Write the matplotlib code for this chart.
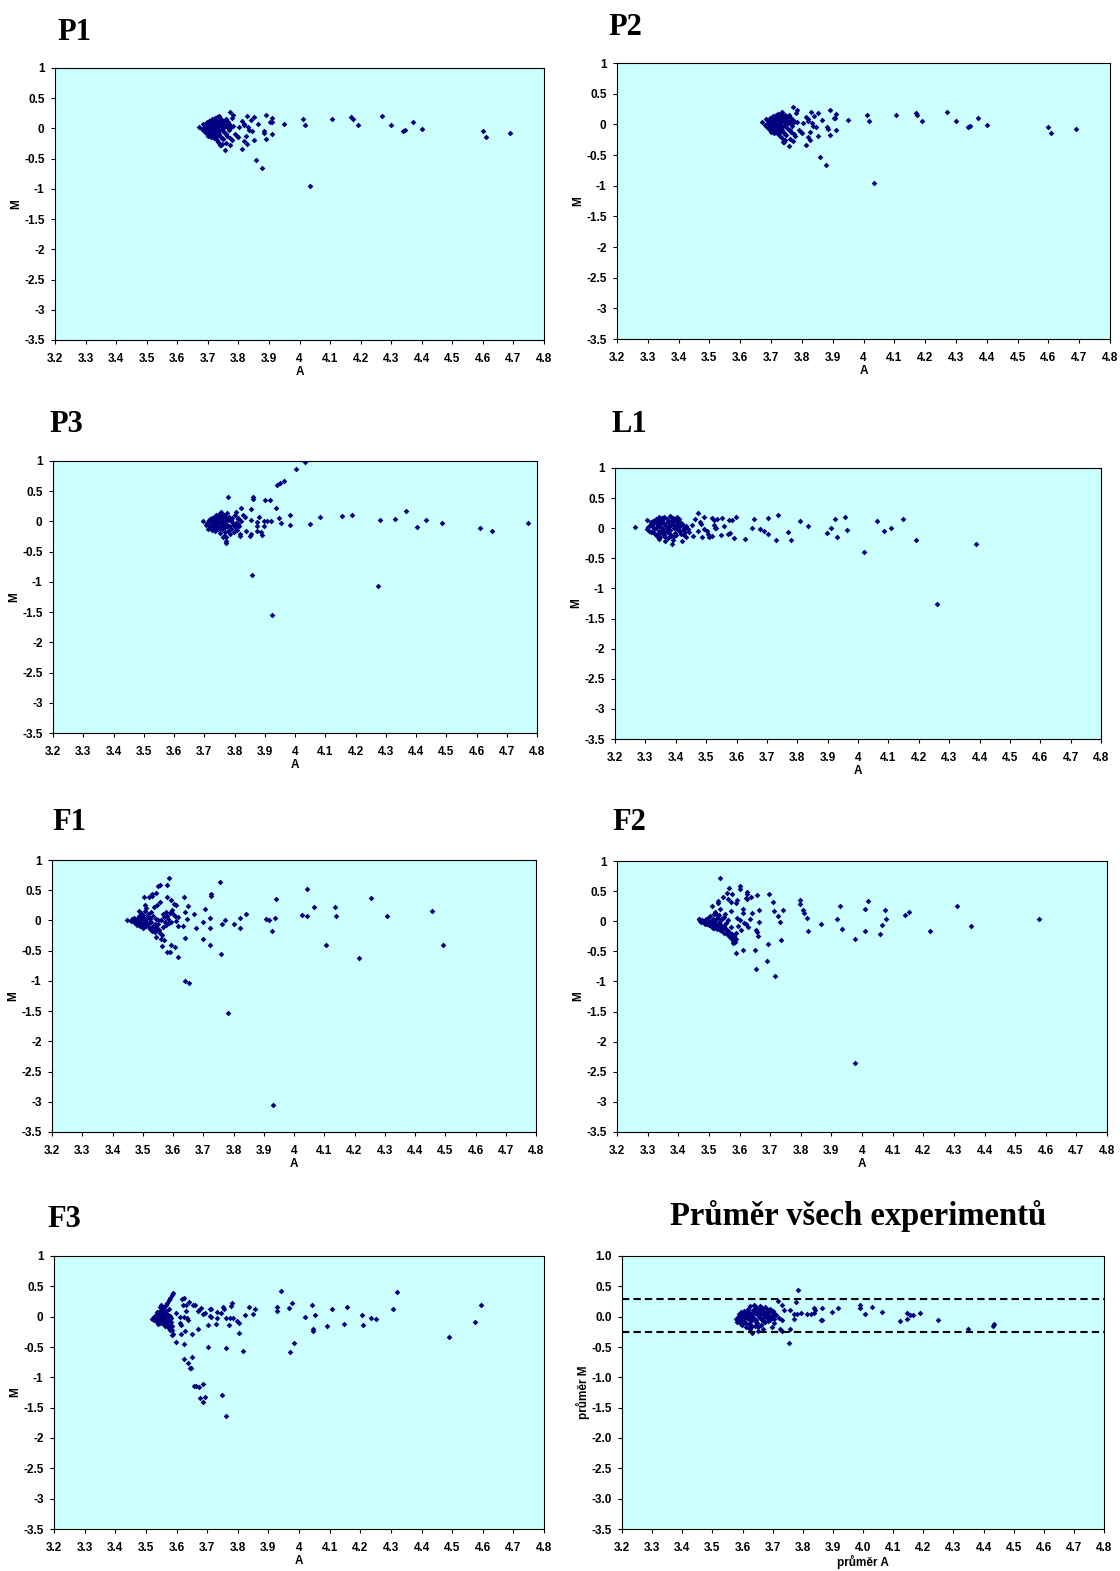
import matplotlib.pyplot as plt
import numpy as np

# (A, M) pairs per experiment
p1_points = [
    (3.672, 0.03), (3.680, -0.01), (3.684, 0.08), (3.688, -0.04), (3.690, 0.02), (3.692, 0.05), (3.694, -0.07), (3.696, 0.00), (3.698, 0.10), (3.700, -0.03),
    (3.700, 0.06), (3.702, -0.10), (3.704, 0.01), (3.705, 0.13), (3.706, -0.05), (3.708, 0.04), (3.709, -0.14), (3.710, 0.09), (3.711, -0.02), (3.712, 0.11),
    (3.713, 0.00), (3.714, -0.08), (3.715, 0.15), (3.716, 0.03), (3.717, -0.12), (3.718, 0.07), (3.719, -0.04), (3.720, 0.12), (3.721, -0.16), (3.722, 0.02),
    (3.723, 0.17), (3.724, -0.06), (3.725, 0.05), (3.726, -0.11), (3.727, 0.14), (3.728, 0.00), (3.729, -0.19), (3.730, 0.08), (3.731, 0.19), (3.732, -0.03),
    (3.733, 0.10), (3.734, -0.22), (3.735, 0.04), (3.736, 0.20), (3.737, -0.09), (3.738, 0.13), (3.740, -0.28), (3.741, 0.06), (3.742, -0.14), (3.744, 0.16),
    (3.745, -0.01), (3.746, -0.26), (3.748, 0.09), (3.750, -0.18), (3.752, 0.12), (3.754, 0.02), (3.756, -0.07), (3.758, 0.15), (3.760, -0.24), (3.762, 0.05),
    (3.764, -0.12), (3.766, 0.10), (3.768, -0.03), (3.770, 0.07), (3.773, -0.15), (3.776, 0.03), (3.780, 0.18),
    (3.690, 0.06), (3.695, -0.05), (3.700, 0.03), (3.705, -0.08), (3.710, 0.05), (3.715, -0.03), (3.720, 0.08), (3.725, -0.09), (3.730, 0.02), (3.735, -0.05),
    (3.740, 0.09), (3.745, 0.03), (3.750, -0.04), (3.755, 0.06), (3.760, -0.10), (3.765, 0.01), (3.700, -0.12), (3.715, 0.10), (3.730, -0.13), (3.745, -0.15),
    (3.720, -0.06), (3.735, 0.12), (3.710, 0.00), (3.725, 0.04),
    (4.27, 0.20), (4.30, 0.05), (4.37, 0.11), (4.34, -0.04), (4.345, -0.02), (4.40, -0.01), (4.60, -0.04), (4.61, -0.14), (4.69, -0.07),
    (4.17, 0.19), (4.175, 0.16), (4.19, 0.06), (4.105, 0.15), (4.012, 0.16), (4.017, 0.05), (4.035, -0.95), (3.949, 0.07),
    (3.892, 0.23), (3.91, 0.17), (3.905, 0.11), (3.909, 0.10), (3.911, -0.10), (3.892, -0.17), (3.883, -0.04), (3.885, -0.07),
    (3.859, -0.53), (3.877, -0.66), (3.864, 0.07), (3.851, 0.19), (3.851, -0.19), (3.84, 0.14), (3.846, -0.04), (3.829, 0.20),
    (3.833, 0.02), (3.826, -0.13), (3.827, -0.25), (3.819, -0.21), (3.812, -0.34), (3.812, 0.12), (3.819, 0.05), (3.803, 0.02),
    (3.796, -0.12), (3.784, 0.23), (3.771, 0.28), (3.784, 0.04), (3.778, -0.19), (3.772, -0.27), (3.757, -0.36), (3.743, -0.28),
    (3.79, -0.09), (3.80, -0.14), (3.835, -0.02), (3.82, 0.08),
]

# P2 was measured with the same values as P1
p2_points = list(p1_points)

p3_points = [
    (3.696, 0.01), (3.705, -0.06), (3.710, -0.03), (3.712, -0.12), (3.715, 0.02), (3.718, -0.08), (3.720, 0.04), (3.722, -0.01), (3.724, -0.14), (3.725, 0.06),
    (3.727, -0.05), (3.728, 0.03), (3.730, -0.10), (3.731, 0.08), (3.733, -0.02), (3.734, 0.01), (3.736, -0.16), (3.737, 0.05), (3.738, -0.07), (3.740, 0.10),
    (3.741, -0.03), (3.742, 0.02), (3.744, -0.12), (3.745, 0.07), (3.746, -0.05), (3.748, 0.13), (3.749, 0.00), (3.750, -0.09), (3.752, 0.04), (3.753, -0.19),
    (3.755, 0.15), (3.756, -0.02), (3.758, 0.09), (3.759, -0.13), (3.760, 0.03), (3.762, -0.06), (3.764, 0.11), (3.765, -0.24), (3.767, 0.01), (3.769, -0.10),
    (3.771, 0.06), (3.773, -0.04), (3.775, 0.14), (3.777, -0.15), (3.779, 0.02), (3.781, -0.08), (3.783, 0.08), (3.786, -0.20), (3.788, 0.03), (3.790, -0.12),
    (3.793, 0.05), (3.796, -0.06), (3.799, -0.17), (3.802, 0.10), (3.805, -0.02), (3.808, -0.14), (3.812, 0.04), (3.815, -0.08), (3.818, -0.20), (3.822, 0.01),
    (3.720, 0.00), (3.730, 0.04), (3.735, -0.05), (3.745, 0.09), (3.750, 0.03), (3.755, -0.11), (3.760, 0.06), (3.765, -0.03), (3.770, 0.10), (3.775, -0.07),
    (3.780, 0.04), (3.785, -0.12), (3.790, 0.01), (3.795, -0.03), (3.740, -0.09), (3.755, 0.12), (3.770, -0.17), (3.800, -0.09), (3.810, -0.04), (3.730, -0.13),
    (4.034, 0.98), (4.002, 0.86), (3.964, 0.67), (3.950, 0.63), (3.941, 0.60), (3.902, 0.35), (3.919, 0.35), (3.861, 0.41), (3.862, 0.37), (3.777, 0.40),
    (3.937, 0.22), (3.854, 0.20), (3.823, 0.22), (3.985, 0.11), (3.946, 0.055), (3.953, -0.02), (3.983, -0.055), (3.899, 0.00), (3.921, 0.00), (3.907, 0.00),
    (3.899, -0.08), (3.881, 0.07), (3.876, -0.01), (3.876, -0.07), (3.875, -0.16), (3.886, -0.17), (3.891, -0.23), (3.855, 0.02), (3.854, -0.215), (3.850, -0.24),
    (3.838, -0.16), (3.836, 0.08), (3.829, 0.11), (3.817, -0.24), (3.811, 0.055), (3.805, 0.15), (3.857, -0.89), (3.925, -1.555), (4.274, -1.06), (4.051, -0.04),
    (4.081, 0.08), (4.154, 0.09), (4.188, 0.10), (4.282, 0.02), (4.330, 0.045), (4.368, 0.18), (4.402, -0.09), (4.434, 0.03), (4.485, -0.03), (4.613, -0.11),
    (4.650, -0.15), (4.770, -0.02), (3.771, -0.35), (3.773, -0.33), (3.762, -0.26), (3.773, -0.25),
]

l1_points = [
    (3.305, 0.14), (3.305, -0.01), (3.310, 0.02), (3.312, -0.04), (3.315, 0.06), (3.318, 0.10), (3.320, -0.06), (3.322, 0.03), (3.325, 0.12), (3.327, -0.02),
    (3.330, 0.08), (3.332, -0.09), (3.334, 0.15), (3.336, 0.00), (3.338, -0.13), (3.340, 0.05), (3.342, 0.11), (3.344, -0.05), (3.346, 0.18), (3.348, -0.15),
    (3.350, 0.02), (3.352, 0.09), (3.354, -0.08), (3.356, 0.13), (3.358, -0.02), (3.360, 0.19), (3.362, -0.11), (3.364, 0.06), (3.366, -0.21), (3.368, 0.01),
    (3.370, 0.15), (3.372, -0.06), (3.374, 0.10), (3.376, -0.17), (3.378, 0.04), (3.380, 0.20), (3.382, -0.03), (3.384, 0.12), (3.386, -0.13), (3.388, 0.07),
    (3.390, -0.20), (3.392, 0.17), (3.394, 0.00), (3.396, -0.08), (3.398, 0.14), (3.400, 0.05), (3.402, -0.12), (3.404, 0.19), (3.406, -0.02), (3.408, 0.10),
    (3.410, -0.05), (3.412, 0.16), (3.415, 0.03), (3.418, -0.10), (3.420, 0.07), (3.423, -0.03), (3.426, 0.01), (3.430, -0.07), (3.435, 0.04), (3.440, -0.02),
    (3.320, 0.05), (3.325, -0.07), (3.330, 0.00), (3.335, 0.10), (3.340, -0.10), (3.345, 0.03), (3.350, 0.14), (3.355, -0.04), (3.360, 0.08), (3.365, -0.14),
    (3.370, 0.02), (3.375, 0.13), (3.380, -0.09), (3.385, 0.05), (3.390, 0.10), (3.395, -0.13), (3.400, 0.00), (3.405, 0.14), (3.410, 0.08), (3.355, 0.17),
    (3.345, -0.18), (3.375, -0.01), (3.395, 0.06), (3.360, -0.06),
    (3.267, 0.02), (4.259, -1.26), (4.387, -0.27), (4.191, -0.20), (4.149, 0.155), (4.107, 0.01), (4.084, -0.04), (4.061, 0.12), (4.019, -0.39), (3.963, -0.03),
    (3.956, 0.18), (3.925, 0.16), (3.932, -0.14), (3.910, 0.005), (3.897, -0.08), (3.835, 0.03), (3.808, 0.12), (3.778, -0.19), (3.770, -0.07), (3.735, 0.22),
    (3.729, -0.20), (3.704, 0.17), (3.704, -0.09), (3.691, -0.04), (3.677, -0.01), (3.656, 0.15), (3.650, 0.00), (3.629, -0.18), (3.598, 0.19), (3.592, -0.16),
    (3.586, 0.13), (3.574, 0.14), (3.571, -0.10), (3.577, -0.08), (3.560, 0.04), (3.553, 0.17), (3.549, -0.105), (3.535, 0.155), (3.527, 0.14), (3.529, 0.01),
    (3.532, 0.01), (3.525, 0.055), (3.520, 0.17), (3.518, -0.13), (3.509, -0.15), (3.503, -0.04), (3.505, -0.09), (3.492, 0.19), (3.492, -0.005), (3.487, -0.14),
    (3.482, 0.07), (3.480, 0.10), (3.473, 0.25), (3.463, 0.155), (3.472, -0.05), (3.458, -0.13), (3.453, 0.055), (3.444, -0.055), (3.433, -0.15), (3.427, -0.105),
    (3.421, -0.22), (3.427, 0.03), (3.416, 0.08), (3.388, -0.26),
]

f1_points = [
    (3.460, -0.01), (3.465, 0.02), (3.470, -0.03), (3.472, 0.04), (3.475, -0.05), (3.478, 0.01), (3.480, -0.08), (3.482, 0.03), (3.485, -0.02), (3.487, 0.07),
    (3.490, -0.10), (3.492, 0.00), (3.494, 0.13), (3.496, -0.06), (3.498, 0.05), (3.500, -0.12), (3.502, 0.09), (3.504, -0.03), (3.506, 0.16), (3.508, -0.08),
    (3.510, 0.02), (3.512, 0.20), (3.514, -0.05), (3.516, 0.11), (3.518, -0.10), (3.520, 0.05), (3.523, -0.14), (3.526, 0.14), (3.528, -0.02), (3.530, -0.17),
    (3.533, 0.08), (3.536, -0.09), (3.538, 0.22), (3.540, -0.19), (3.543, 0.03), (3.546, -0.13), (3.548, 0.26), (3.550, -0.06), (3.553, -0.16), (3.556, 0.30),
    (3.558, -0.20), (3.560, 0.00), (3.563, -0.24), (3.566, 0.10), (3.568, -0.11), (3.570, 0.05), (3.573, -0.03), (3.576, 0.14), (3.578, -0.07), (3.580, 0.08),
    (3.583, 0.02), (3.586, -0.05), (3.590, 0.12), (3.593, -0.02), (3.597, 0.18), (3.600, 0.10), (3.605, 0.07), (3.610, -0.01),
    (3.490, -0.04), (3.495, 0.03), (3.500, -0.07), (3.505, 0.00), (3.510, -0.10), (3.515, 0.06), (3.520, -0.05), (3.525, 0.02), (3.530, -0.11), (3.535, -0.15),
    (3.540, -0.06), (3.545, -0.16), (3.550, 0.00),
    (3.930, -3.06), (3.782, -1.525), (3.639, -1.01), (3.653, -1.04), (4.216, -0.62), (4.494, -0.41), (4.106, -0.40), (4.457, 0.15), (4.307, 0.07), (4.253, 0.37),
    (4.137, 0.23), (4.138, 0.07), (4.044, 0.52), (4.067, 0.23), (4.043, 0.08), (4.025, 0.09), (3.941, 0.36), (3.937, 0.04), (3.926, -0.18), (3.916, 0.00),
    (3.906, 0.02), (3.840, 0.10), (3.821, 0.045), (3.821, -0.13), (3.803, -0.065), (3.772, 0.00), (3.762, -0.055), (3.760, -0.56), (3.757, 0.63), (3.725, 0.43),
    (3.727, 0.41), (3.723, 0.04), (3.723, -0.12), (3.723, -0.41), (3.706, 0.19), (3.699, -0.03), (3.700, -0.31), (3.676, -0.12), (3.669, 0.11), (3.648, 0.24),
    (3.645, 0.02), (3.640, -0.29), (3.638, 0.38), (3.639, 0.14), (3.633, -0.10), (3.615, -0.60), (3.608, -0.44), (3.595, -0.41), (3.588, 0.70), (3.580, 0.58),
    (3.550, 0.57), (3.558, 0.58), (3.545, 0.45), (3.530, 0.43), (3.532, 0.40), (3.581, 0.38), (3.592, 0.34), (3.602, 0.27), (3.610, 0.25), (3.615, 0.06),
    (3.618, -0.10), (3.581, -0.53), (3.590, -0.52), (3.560, -0.31), (3.563, -0.42), (3.571, -0.32), (3.544, -0.28), (3.503, 0.385), (3.520, 0.39), (3.487, 0.16),
    (3.507, 0.26), (3.449, 0.01),
]

f2_points = [
    (3.468, 0.03), (3.472, 0.01), (3.475, -0.01), (3.478, 0.02), (3.480, -0.02), (3.483, 0.00), (3.486, -0.04), (3.489, 0.03), (3.490, -0.01), (3.493, -0.05),
    (3.496, 0.05), (3.498, -0.03), (3.500, 0.01), (3.502, -0.07), (3.505, 0.08), (3.507, -0.02), (3.510, -0.09), (3.512, 0.04), (3.514, -0.06), (3.516, 0.12),
    (3.518, -0.11), (3.520, 0.00), (3.523, -0.08), (3.525, 0.06), (3.527, -0.13), (3.530, -0.04), (3.533, 0.10), (3.535, -0.15), (3.538, -0.07), (3.540, 0.03),
    (3.543, -0.17), (3.545, -0.10), (3.548, 0.07), (3.550, -0.19), (3.553, -0.12), (3.555, -0.03), (3.558, -0.21), (3.560, -0.15), (3.563, 0.02), (3.565, -0.24),
    (3.567, -0.18), (3.570, -0.27), (3.572, -0.10), (3.574, -0.30), (3.576, -0.22), (3.578, -0.33), (3.580, -0.36), (3.582, -0.27), (3.585, -0.34), (3.588, -0.30),
    (3.590, -0.20), (3.583, -0.24),
    (3.490, -0.03), (3.500, -0.05), (3.510, -0.02), (3.520, -0.05), (3.530, -0.10), (3.540, -0.13), (3.550, -0.08), (3.560, -0.19), (3.570, -0.22), (3.580, -0.28),
    (3.515, -0.12), (3.535, 0.00), (3.545, 0.05), (3.525, 0.10),
    (3.976, -2.35), (3.715, -0.905), (3.653, -0.795), (3.689, -0.655), (3.652, -0.47), (3.613, -0.48), (3.590, -0.52), (3.694, -0.385), (3.735, -0.32), (4.578, 0.04),
    (4.355, -0.085), (4.311, 0.25), (4.222, -0.16), (4.155, 0.16), (4.141, 0.11), (4.078, 0.04), (4.075, 0.19), (4.065, -0.06), (4.058, -0.22), (4.020, 0.33),
    (4.011, 0.20), (4.011, -0.16), (3.976, -0.29), (3.935, -0.13), (3.928, 0.26), (3.919, 0.04), (3.866, -0.05), (3.823, -0.17), (3.819, 0.05), (3.810, 0.14),
    (3.807, 0.18), (3.797, 0.35), (3.798, 0.28), (3.742, 0.19), (3.725, 0.09), (3.732, -0.01), (3.713, 0.17), (3.711, 0.32), (3.695, 0.445), (3.664, 0.19),
    (3.664, -0.02), (3.657, 0.43), (3.661, -0.25), (3.653, -0.15), (3.657, -0.18), (3.641, 0.13), (3.635, 0.04), (3.627, -0.10), (3.620, -0.04), (3.616, -0.035),
    (3.636, 0.40), (3.625, 0.49), (3.624, 0.46), (3.620, 0.39), (3.624, 0.37), (3.600, 0.585), (3.601, 0.535), (3.611, 0.21), (3.612, 0.14), (3.603, 0.015),
    (3.594, -0.085), (3.605, -0.15), (3.537, 0.715), (3.565, 0.55), (3.577, 0.45), (3.559, 0.475), (3.592, 0.35), (3.587, 0.30), (3.529, 0.33), (3.531, 0.30),
    (3.545, 0.41), (3.573, 0.32), (3.572, 0.17), (3.561, 0.365), (3.593, 0.06), (3.510, 0.26), (3.519, 0.16), (3.537, 0.21), (3.552, 0.125), (3.468, 0.03),
]

f3_points = [
    (3.520, -0.04), (3.523, -0.02), (3.526, -0.05), (3.528, 0.00), (3.530, -0.03), (3.532, 0.03), (3.535, -0.06), (3.537, 0.07), (3.540, -0.01), (3.542, 0.04),
    (3.544, -0.08), (3.546, 0.10), (3.548, -0.03), (3.550, 0.02), (3.552, -0.10), (3.554, 0.13), (3.556, -0.05), (3.558, 0.06), (3.560, -0.12), (3.562, 0.00),
    (3.564, -0.15), (3.566, 0.09), (3.568, -0.07), (3.570, 0.04), (3.572, -0.17), (3.574, 0.12), (3.576, -0.04), (3.578, -0.20), (3.580, 0.01), (3.583, -0.09),
    (3.586, -0.22), (3.550, 0.08), (3.545, -0.10), (3.535, 0.05), (3.540, -0.12),
    (3.530, 0.01), (3.535, -0.08), (3.540, 0.06), (3.545, -0.03), (3.550, -0.06), (3.555, 0.03), (3.560, 0.09), (3.565, -0.06), (3.570, -0.09), (3.575, 0.01),
    (3.580, -0.13), (3.585, -0.15), (3.560, -0.02),
    (3.763, -1.63), (3.750, -1.285), (3.687, -1.41), (3.678, -1.34), (3.693, -1.32), (3.687, -1.11), (3.658, -1.135), (3.664, -1.14), (3.672, -1.16), (3.644, -0.84),
    (3.646, -0.85), (3.649, -0.67), (3.626, -0.69), (3.636, -0.76), (3.626, -0.45), (3.650, -0.28), (3.628, -0.23), (3.616, -0.28), (3.599, -0.41), (3.585, -0.30),
    (3.704, -0.50), (3.669, -0.21), (3.763, -0.51), (3.817, -0.56), (3.803, -0.265), (3.771, -0.135), (3.969, -0.585), (3.985, -0.43), (3.941, 0.42), (3.978, 0.225),
    (3.967, 0.15), (3.927, 0.16), (3.927, 0.095), (4.041, 0.20), (4.019, -0.01), (4.052, 0.025), (4.045, -0.20), (4.047, -0.23), (4.107, 0.12), (4.091, -0.155),
    (4.157, 0.16), (4.148, -0.12), (4.205, 0.035), (4.208, -0.135), (4.234, -0.025), (4.252, -0.045), (4.306, 0.13), (4.321, 0.40), (4.489, -0.34), (4.574, -0.08),
    (4.593, 0.19), (3.836, 0.16), (3.825, 0.025), (3.855, 0.12), (3.851, 0.04), (3.777, 0.17), (3.780, 0.22), (3.751, 0.16), (3.756, 0.12), (3.745, 0.06),
    (3.733, 0.07), (3.731, -0.03), (3.729, -0.12), (3.762, -0.02), (3.774, -0.02), (3.786, -0.02), (3.797, -0.07), (3.803, -0.10), (3.711, 0.13), (3.714, 0.12),
    (3.709, 0.01), (3.713, 0.00), (3.702, -0.135), (3.693, 0.06), (3.686, 0.045), (3.680, 0.145), (3.674, 0.11), (3.669, 0.09), (3.660, 0.19), (3.653, 0.20),
    (3.641, 0.245), (3.630, 0.195), (3.621, 0.195), (3.623, 0.31), (3.617, 0.285), (3.631, 0.09), (3.634, -0.02), (3.624, 0.00), (3.613, -0.01), (3.639, -0.05),
    (3.613, -0.11), (3.616, -0.13), (3.597, 0.06), (3.586, 0.35), (3.588, 0.39), (3.578, 0.31), (3.575, 0.27), (3.570, 0.23), (3.565, 0.20), (3.558, 0.16),
    (3.551, 0.19), (3.545, 0.16), (3.583, -0.02), (3.588, -0.29), (3.580, -0.22), (3.576, -0.18), (3.570, -0.13), (3.565, -0.10),
]

avg_points = [
    (3.580, -0.04), (3.583, -0.08), (3.586, 0.00), (3.588, -0.06), (3.590, 0.04), (3.592, -0.11), (3.594, -0.02), (3.596, 0.07), (3.598, -0.14), (3.600, 0.02),
    (3.602, -0.05), (3.604, 0.10), (3.606, -0.09), (3.608, -0.01), (3.610, 0.05), (3.612, -0.17), (3.614, 0.08), (3.616, -0.03), (3.618, 0.13), (3.620, -0.12),
    (3.622, 0.01), (3.624, -0.21), (3.626, 0.18), (3.628, -0.07), (3.630, 0.04), (3.632, -0.27), (3.634, 0.11), (3.636, -0.02), (3.638, 0.20), (3.640, -0.15),
    (3.642, 0.06), (3.644, -0.05), (3.646, 0.15), (3.648, -0.10), (3.650, 0.02), (3.652, -0.23), (3.654, 0.09), (3.656, -0.01), (3.658, 0.17), (3.660, -0.13),
    (3.662, 0.04), (3.664, -0.06), (3.666, 0.12), (3.668, -0.20), (3.670, 0.07), (3.672, 0.00), (3.674, 0.16), (3.676, -0.09), (3.678, 0.05), (3.680, -0.03),
    (3.683, 0.10), (3.686, -0.07), (3.689, 0.03), (3.692, 0.12), (3.695, -0.02), (3.698, 0.07), (3.701, 0.01), (3.704, -0.04), (3.708, 0.05), (3.712, 0.02),
    (3.590, -0.01), (3.595, -0.07), (3.600, 0.06), (3.605, -0.03), (3.610, -0.11), (3.615, 0.03), (3.620, 0.07), (3.625, -0.05), (3.630, -0.15), (3.635, 0.00),
    (3.640, 0.10), (3.645, -0.09), (3.650, 0.06), (3.655, 0.13), (3.660, -0.03), (3.665, 0.08), (3.670, -0.08), (3.675, 0.03), (3.680, 0.13), (3.685, 0.02),
    (3.690, -0.05), (3.640, 0.17), (3.660, 0.16), (3.620, -0.19), (3.650, -0.17), (3.700, 0.10), (3.705, -0.10),
    (3.785, 0.44), (3.753, -0.43), (3.719, 0.265), (3.778, 0.235), (3.731, 0.20), (3.737, 0.105), (3.757, 0.115), (3.770, 0.05), (3.780, 0.04), (3.795, 0.065),
    (3.772, -0.035), (3.759, -0.20), (3.730, -0.23), (3.725, -0.20), (3.730, -0.055), (3.721, -0.03), (3.814, 0.05), (3.826, 0.045), (3.838, 0.065), (3.842, 0.105),
    (3.836, 0.15), (3.864, 0.14), (3.860, -0.05), (3.865, -0.06), (3.896, 0.08), (3.916, 0.15), (3.989, 0.19), (3.989, 0.14), (4.008, 0.04), (4.030, 0.155),
    (4.064, 0.08), (4.122, -0.065), (4.147, 0.06), (4.147, -0.035), (4.157, 0.02), (4.165, 0.03), (4.188, 0.065), (4.248, -0.055), (4.347, -0.20), (4.430, -0.15),
    (4.436, -0.125), (3.698, -0.165),
]

# limits of the dashed band in the average plot
band_upper = 0.29
band_lower = -0.25

x_ticks = [3.2, 3.3, 3.4, 3.5, 3.6, 3.7, 3.8, 3.9, 4.0, 4.1, 4.2, 4.3, 4.4, 4.5, 4.6, 4.7, 4.8]
y_ticks = [1.0, 0.5, 0.0, -0.5, -1.0, -1.5, -2.0, -2.5, -3.0, -3.5]

W, H = 1120, 1571
fig = plt.figure(figsize=(W / 100, H / 100), dpi=100)

tick_font = {'family': 'Liberation Sans', 'weight': 'bold', 'size': 8.5}
title_font = {'family': 'Liberation Serif', 'weight': 'bold', 'size': 22}


def panel(box, points, xlab='A', ylab='M', fixed=False):
    # box in pixels: left, top, right, bottom
    l, t, r, b = box
    ax = fig.add_axes([l / W, 1 - b / H, (r - l) / W, (b - t) / H])
    ax.set_facecolor('#CCFFFF')
    pts = np.array(points)
    ax.plot(pts[:, 0], pts[:, 1], 'D', color='#000080', ms=2.9, mew=0)
    ax.set_xlim(3.2, 4.8)
    ax.set_ylim(-3.5, 1.0)
    ax.set_xticks(x_ticks)
    ax.set_yticks(y_ticks)
    if fixed:
        ax.set_xticklabels([f'{v:.1f}' for v in x_ticks], fontdict=tick_font)
        ax.set_yticklabels([f'{v:.1f}' for v in y_ticks], fontdict=tick_font)
    else:
        ax.set_xticklabels([f'{v:g}' for v in x_ticks], fontdict=tick_font)
        ax.set_yticklabels([f'{v:g}' for v in y_ticks], fontdict=tick_font)
    ax.tick_params(axis='x', direction='out', length=3, width=0.8, pad=6.5)
    ax.tick_params(axis='y', direction='out', length=3, width=0.8, pad=4.5)
    for s in ax.spines.values():
        s.set_color('black')
        s.set_linewidth(0.8)
    ax.set_xlabel(xlab, fontdict=tick_font, labelpad=0.5)
    ax.set_ylabel(ylab, fontdict=tick_font, labelpad=1)
    return ax


panel((55, 68, 544, 340), p1_points)
panel((617, 63, 1110, 339), p2_points)
panel((53, 461, 537, 733), p3_points)
panel((615, 468, 1101, 739), l1_points)
panel((52, 860, 536, 1132), f1_points)
panel((617, 861, 1107, 1132), f2_points)
panel((54, 1256, 544, 1529), f3_points)
ax_avg = panel((622, 1256, 1104, 1529), avg_points, 'průměr A', 'průměr M', fixed=True)
for yv in (band_upper, band_lower):
    ax_avg.axhline(yv, color='black', lw=1.5, ls=(0, (3.5, 2)))

titles = [('P1', 57, 40), ('P2', 608, 35), ('P3', 49, 432), ('L1', 611, 432),
          ('F1', 52, 830), ('F2', 612, 830), ('F3', 47, 1227)]
for txt, x, y in titles:
    fig.text(x / W, 1 - y / H, txt, ha='left', va='baseline', fontdict=title_font)
fig.text(858 / W, 1 - 1225 / H, 'Průměr všech experimentů', ha='center', va='baseline',
         family='Liberation Serif', weight='bold', size=23.5)

plt.savefig('out.png', dpi=100)
